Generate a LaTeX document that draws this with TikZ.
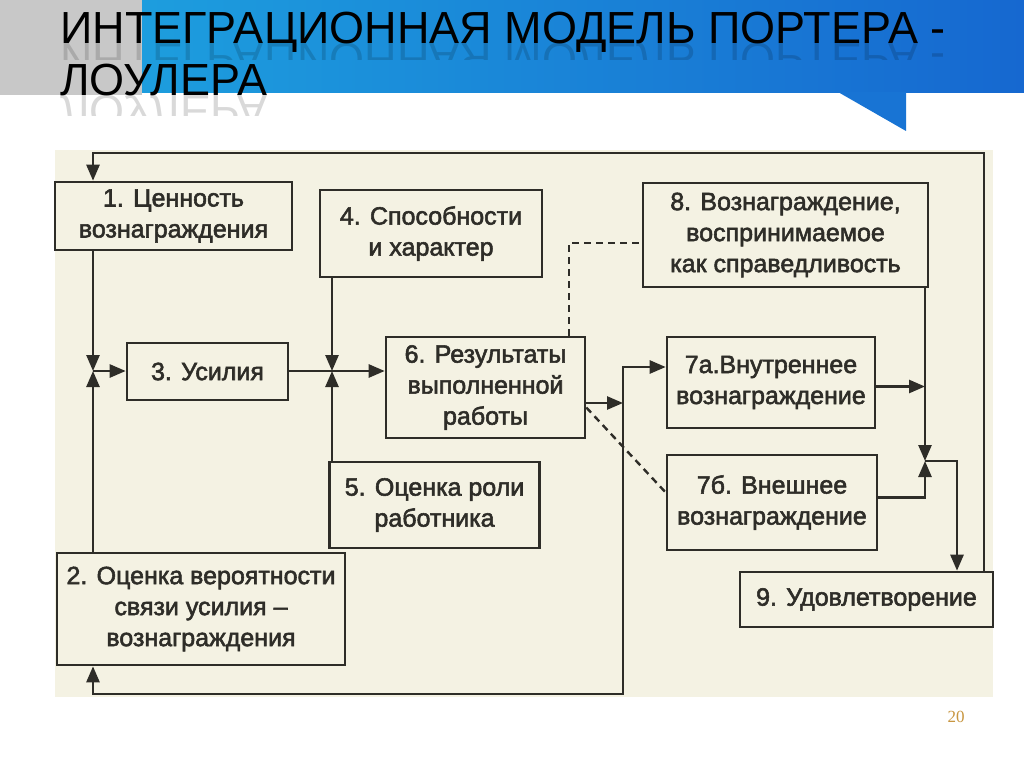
\documentclass[tikz,border=0pt]{standalone}
\usepackage{fontspec}
\usetikzlibrary{arrows.meta}
\setmainfont{Liberation Sans}
\newfontfamily\boxfont[FakeBold=2.2]{Liberation Sans}
\newfontfamily\titlefont{Liberation Sans}
\newfontfamily\numfont{Liberation Serif}
\definecolor{beige}{RGB}{244,242,227}
\definecolor{ink}{RGB}{46,45,40}
\definecolor{bannerL}{RGB}{30,166,224}
\definecolor{bannerR}{RGB}{22,104,208}
\definecolor{tailblue}{RGB}{24,116,212}
\definecolor{slate}{RGB}{200,200,200}
\definecolor{pagenum}{RGB}{200,150,64}

\begin{document}
\begin{tikzpicture}[x=1pt,y=-1pt,
		box/.style={draw=ink, line width=2.6pt, inner sep=0pt, align=center, text=ink,
			font=\boxfont\fontsize{25}{31}\selectfont},
		arr/.style={draw=ink, line width=2.6pt, -{Triangle[length=16pt,width=13pt]}},
		dashline/.style={draw=ink, line width=2.4pt, dash pattern=on 7pt off 5pt},
		ttl/.style={anchor=base west, inner sep=0pt, font=\titlefont\fontsize{45}{45}\selectfont}]
			\fill[white] (0,0) rectangle (1024,767);
			\useasboundingbox (0,0) rectangle (1024,767);
			\shade[left color=bannerL, right color=bannerR] (0,0) rectangle (1024,93);
			\fill[tailblue] (838,92) -- (906,131) -- (906,92) -- cycle;
			\fill[slate] (0,0) rectangle (142,95);
			\node[ttl] (t1) at (60,44) {ИНТЕГРАЦИОННАЯ МОДЕЛЬ ПОРТЕРА -};
			\node[ttl] (t2) at (60,96) {ЛОУЛЕРА};
			\begin{scope}
				\clip (0,44) rectangle (1024,60);
				\node[ttl, yscale=-1, opacity=.15] (t1r) at (t1.base west) {ИНТЕГРАЦИОННАЯ МОДЕЛЬ ПОРТЕРА -};
			\end{scope}
			\begin{scope}
				\clip (0,96) rectangle (1024,116);
				\node[ttl, yscale=-1, opacity=.15] (t2r) at (t2.base west) {ЛОУЛЕРА};
			\end{scope}
			\fill[beige] (55,150) rectangle (993,697);
			\node[box, minimum width=237pt, minimum height=68pt] (b1) at (173.5,216) {1. Ценность\\вознаграждения};
			\node[box, minimum width=222pt, minimum height=87pt] (b4) at (431,233.5) {4. Способности\\и характер};
			\node[box, minimum width=285pt, minimum height=104pt] (b8) at (785.5,235) {8. Вознаграждение,\\воспринимаемое\\как справедливость};
			\node[box, minimum width=161pt, minimum height=57pt] (b3) at (207.5,371.5) {3. Усилия};
			\node[box, minimum width=199pt, minimum height=101pt] (b6) at (485.5,387.5) {6. Результаты\\выполненной\\работы};
			\node[box, minimum width=208pt, minimum height=91pt] (b7a) at (771,382.5) {7а.Внутреннее\\вознаграждение};
			\node[box, minimum width=210pt, minimum height=95pt] (b7b) at (772,502.5) {7б. Внешнее\\вознаграждение};
			\node[box, minimum width=210pt, minimum height=86pt] (b5) at (434.5,505) {5. Оценка роли\\работника};
			\node[box, minimum width=288pt, minimum height=112pt] (b2) at (201,609) {2. Оценка вероятности\\связи усилия –\\вознаграждения};
			\node[box, minimum width=253pt, minimum height=55pt] (b9) at (866.5,599.5) {9. Удовлетворение};
			\coordinate (jl) at (93,371);
			\coordinate (jm) at (332,371);
			\coordinate (jr) at (925,461);
			\coordinate (rc) at (957,461);
			\coordinate (tl) at (93,153);
			\coordinate (tr) at (984,153);
			\coordinate (vt) at (623,367);
			\coordinate (vr) at (623,403);
			\coordinate (br) at (623,694);
			\coordinate (bl) at (93,694);
			\coordinate (dc) at (569,243);
			\draw[arr] (tr |- b9.north) -- (tr) -- (tl) -- (tl |- b1.north);
			\draw[arr] (b1.south -| jl) -- (jl);
			\draw[arr] (b2.north -| jl) -- (jl);
			\draw[arr] (jl) -- (jl -| b3.west);
			\draw[arr] (b3.east |- jm) -- (jm -| b6.west);
			\draw[arr] (b4.south -| jm) -- (jm);
			\draw[arr] (b5.north -| jm) -- (jm);
			\draw[arr] (b6.east |- vr) -- (vr);
			\draw[arr, {Triangle[length=16pt,width=13pt]}-{Triangle[length=16pt,width=13pt]}] (b7a.west |- vt) -- (vt) -- (br) -- (bl) -- (bl |- b2.south);
			\draw[dashline] (b6.north -| dc) -- (dc) -- (dc -| b8.west);
			\draw[dashline] ([yshift=-20pt]b6.east) -- ([yshift=10pt]b7b.west);
			\draw[arr] ([yshift=-4pt]b7a.east) -- ([yshift=-4pt]b7a.east -| jr);
			\draw[arr] (b8.south -| jr) -- (jr);
			\draw[arr] ([yshift=5pt]b7b.east) -- ([yshift=5pt]b7b.east -| jr) -- (jr);
			\draw[arr] (jr) -- (rc) -- (rc |- b9.north);
			\node[font=\numfont\fontsize{17}{17}\selectfont, text=pagenum] (pg) at (956,717) {20};
		\end{tikzpicture}
\end{document}
